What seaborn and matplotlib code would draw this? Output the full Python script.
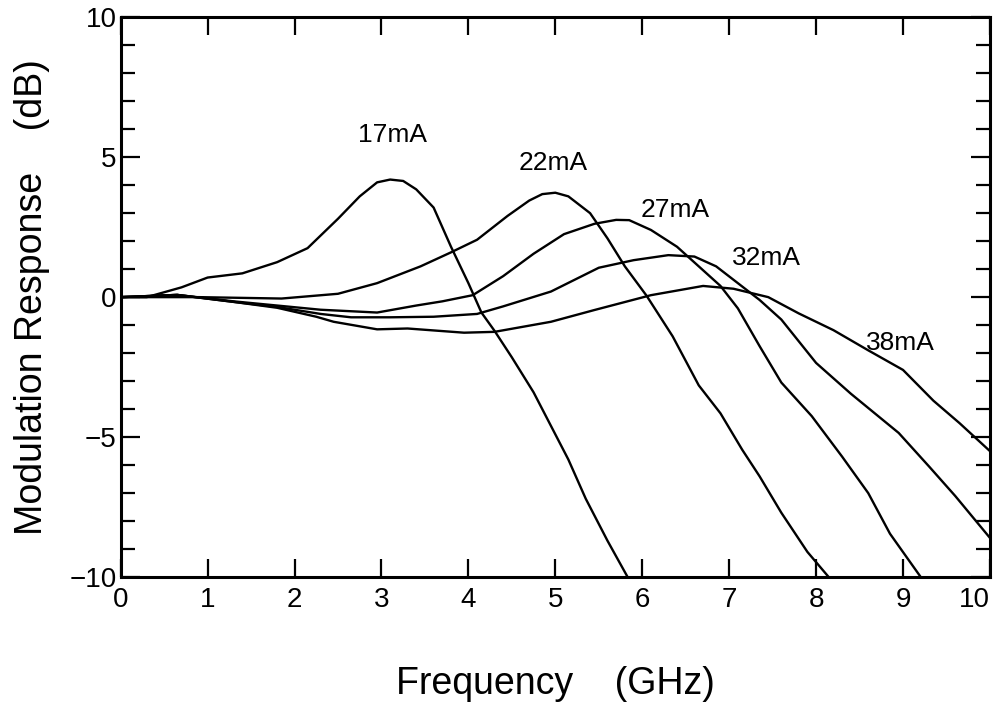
import matplotlib
matplotlib.use("Agg")
import matplotlib.pyplot as plt
from matplotlib.ticker import MultipleLocator
import numpy as np
import pandas as pd
import seaborn as sns

# (frequency in GHz, response in dB)
freq17 = [0, 0.3, 0.7, 1.0, 1.4, 1.8, 2.15, 2.5, 2.75, 2.95, 3.1, 3.25, 3.4, 3.6, 3.8, 4.0, 4.15, 4.3, 4.5, 4.75, 4.95, 5.15, 5.35, 5.6, 5.85]
resp17 = [0, 0, 0.35, 0.7, 0.85, 1.25, 1.75, 2.8, 3.6, 4.1, 4.2, 4.15, 3.85, 3.2, 1.8, 0.5, -0.55, -1.2, -2.15, -3.4, -4.6, -5.8, -7.2, -8.7, -10.1]

freq22 = [0, 0.9, 1.85, 2.5, 2.95, 3.45, 3.8, 4.1, 4.45, 4.7, 4.85, 5.0, 5.15, 5.4, 5.6, 5.8, 6.05, 6.35, 6.65, 6.9, 7.15, 7.35, 7.6, 7.9, 8.2]
resp22 = [0, 0, -0.05, 0.12, 0.5, 1.1, 1.6, 2.05, 2.9, 3.45, 3.68, 3.73, 3.6, 3.0, 2.1, 1.1, 0.05, -1.4, -3.15, -4.15, -5.45, -6.4, -7.7, -9.1, -10.2]

freq27 = [0, 0.65, 1.3, 1.8, 2.3, 2.95, 3.4, 3.7, 4.05, 4.4, 4.75, 5.1, 5.45, 5.7, 5.85, 6.1, 6.4, 6.65, 6.9, 7.1, 7.35, 7.6, 7.95, 8.3, 8.6, 8.85, 9.25]
resp27 = [0, 0.08, -0.15, -0.3, -0.45, -0.55, -0.3, -0.15, 0.07, 0.75, 1.55, 2.25, 2.62, 2.76, 2.75, 2.4, 1.8, 1.1, 0.4, -0.4, -1.75, -3.05, -4.25, -5.7, -7.0, -8.45, -10.2]

freq32 = [0, 0.65, 1.3, 1.8, 2.3, 2.65, 3.1, 3.6, 4.1, 4.4, 4.95, 5.5, 5.9, 6.3, 6.6, 6.85, 7.1, 7.35, 7.6, 8.0, 8.4, 8.95, 9.3, 9.6, 10.0]
resp32 = [0, 0.08, -0.17, -0.35, -0.6, -0.72, -0.72, -0.7, -0.6, -0.33, 0.2, 1.05, 1.32, 1.5, 1.45, 1.1, 0.5, -0.1, -0.8, -2.35, -3.45, -4.85, -6.05, -7.1, -8.6]

freq38 = [0, 0.65, 1.3, 1.8, 2.25, 2.45, 2.95, 3.3, 3.95, 4.3, 4.95, 5.45, 6.1, 6.7, 7.05, 7.45, 7.8, 8.2, 8.6, 9.0, 9.35, 9.65, 10.0]
resp38 = [0, 0.08, -0.17, -0.38, -0.7, -0.88, -1.15, -1.12, -1.27, -1.24, -0.88, -0.46, 0.07, 0.4, 0.3, 0.0, -0.58, -1.18, -1.9, -2.6, -3.7, -4.5, -5.5]

currents = ["17mA", "22mA", "27mA", "32mA", "38mA"]
label_x = [3.13, 4.97, 6.38, 7.43, 8.97]
label_y = [5.8, 4.8, 3.1, 1.4, -1.65]
xticks = list(range(0, 11))

curves = [(freq17, resp17), (freq22, resp22), (freq27, resp27), (freq32, resp32), (freq38, resp38)]
df = pd.concat(
    [pd.DataFrame({"freq": f, "resp": r, "current": c}) for (f, r), c in zip(curves, currents)],
    ignore_index=True,
)

sns.set_style("ticks")
plt.rcParams["font.family"] = ["Liberation Sans", "DejaVu Sans"]
for k in ["text.color", "axes.labelcolor", "xtick.color", "ytick.color", "axes.edgecolor"]:
    plt.rcParams[k] = "black"

fig = plt.figure(figsize=(10.04, 7.16), dpi=100)
ax = fig.add_axes([0.1202, 0.194, 0.8658, 0.782])

sns.lineplot(data=df, x="freq", y="resp", hue="current", palette=["black"] * 5,
             estimator=None, sort=False, legend=False, linewidth=1.7, ax=ax)

for c, x, y in zip(currents, label_x, label_y):
    ax.text(x, y, c, fontsize=19, ha="center", va="center")

ax.set_xlim(0, 10)
ax.set_ylim(-10, 10)
ax.set_xticks(xticks, labels=[str(t) for t in xticks])
ax.yaxis.set_major_locator(MultipleLocator(5))
ax.yaxis.set_minor_locator(MultipleLocator(1))
ax.tick_params(which="both", direction="in", top=True, right=True, width=1.6, labelsize=20)
ax.tick_params(axis="x", which="major", length=13, pad=7)
ax.tick_params(axis="y", which="major", length=14, pad=3)
ax.tick_params(axis="y", which="minor", length=10)
for s in ax.spines.values():
    s.set_linewidth(2.2)

ax.set_xlabel("Frequency    (GHz)", fontsize=27, labelpad=38)
ax.set_ylabel("Modulation Response    (dB)", fontsize=27, labelpad=14)

# keep the last x tick label inside the figure
last = ax.get_xticklabels()[-1]
last.set_horizontalalignment("right")
last.set_x(10.1)

fig.savefig("out.png", dpi=100)
